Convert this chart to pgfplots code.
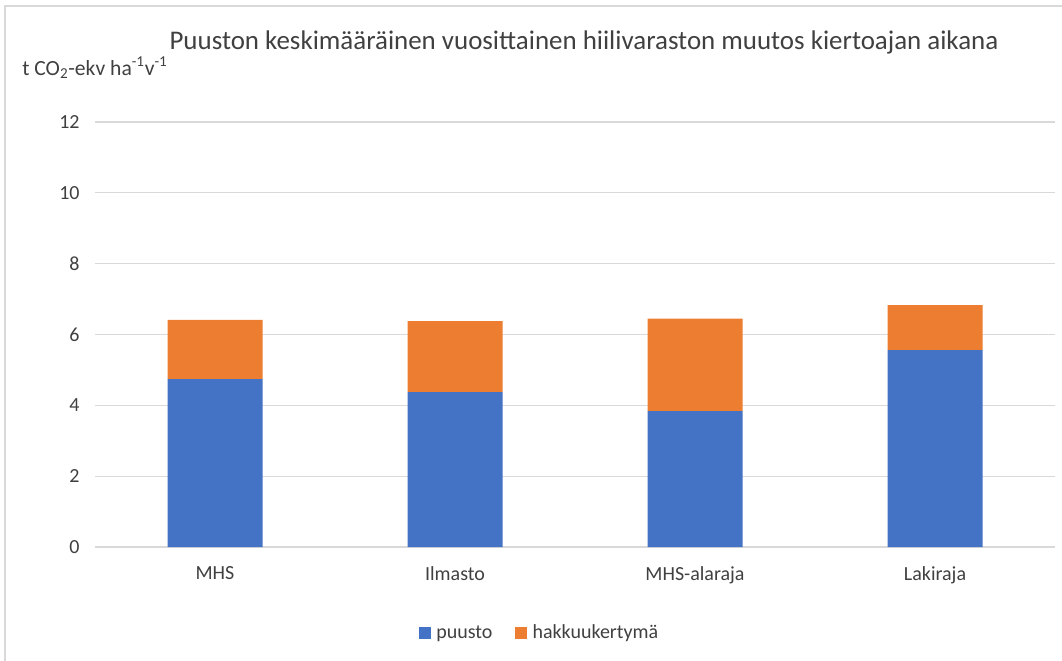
\documentclass[border=0pt]{standalone}
\usepackage{fontspec}
\setmainfont{Carlito}
\usepackage{pgfplots}
\pgfplotsset{compat=1.18}
\definecolor{cblue}{HTML}{4472C4}
\definecolor{corange}{HTML}{ED7D31}
\definecolor{cgrid}{HTML}{D9D9D9}
\definecolor{ctext}{HTML}{404040}
\begin{document}
\begin{tikzpicture}[x=0.75pt,y=0.75pt]
\useasboundingbox (0,0) rectangle (1062,-660);
\draw[cgrid, line width=1.2pt] (5,-662) -- (5,-6) -- (1064,-6);
\node[anchor=base, font=\fontsize{20.2}{22}\selectfont, text=ctext] at (584,-50) {Puuston keskimääräinen vuosittainen hiilivaraston muutos kiertoajan aikana};
\node[anchor=base west, inner sep=0pt, font=\fontsize{16.2}{18}\selectfont, text=ctext] at (22,-75) {t CO\textsubscript{2}-ekv ha\textsuperscript{-1}v\textsuperscript{-1}};
\begin{axis}[
  at={(71.25pt,-410.25pt)}, anchor=south west,
  scale only axis, width=720pt, height=318.75pt,
  ybar stacked, bar width=71.25pt,
  xmin=-0.5, xmax=3.5, ymin=0, ymax=12,
  xtick=data, xticklabels={MHS, Ilmasto, MHS-alaraja, Lakiraja},
  ytick={0,2,4,6,8,10,12},
  ymajorgrids, grid style={cgrid, line width=0.9pt},
  axis line style={draw=none}, major tick length=0pt,
  axis x line*=bottom,
  x axis line style={draw=cgrid, line width=0.9pt},
  tick label style={font=\fontsize{15}{17}\selectfont, text=ctext},
  /pgf/number format/assume math mode=true,
  yticklabel style={xshift=-8pt},
  xticklabel style={yshift=-11pt},
  legend style={at={(0.4635,-0.202)}, anchor=center, draw=none, fill=none,
    legend columns=2, font=\fontsize{15}{17}\selectfont, text=ctext,
    /tikz/every odd column/.append style={column sep=2pt},
    /tikz/every even column/.append style={column sep=15pt}},
  legend image code/.code={\fill[#1] (0pt,-4.5pt) rectangle (9pt,4.5pt);},
]
\addplot[fill=cblue, draw=none] coordinates {(0,4.74) (1,4.37) (2,3.84) (3,5.56)};
\addplot[fill=corange, draw=none] coordinates {(0,1.67) (1,2.01) (2,2.61) (3,1.27)};
\legend{puusto, hakkuukertymä}
\end{axis}
\end{tikzpicture}
\end{document}
